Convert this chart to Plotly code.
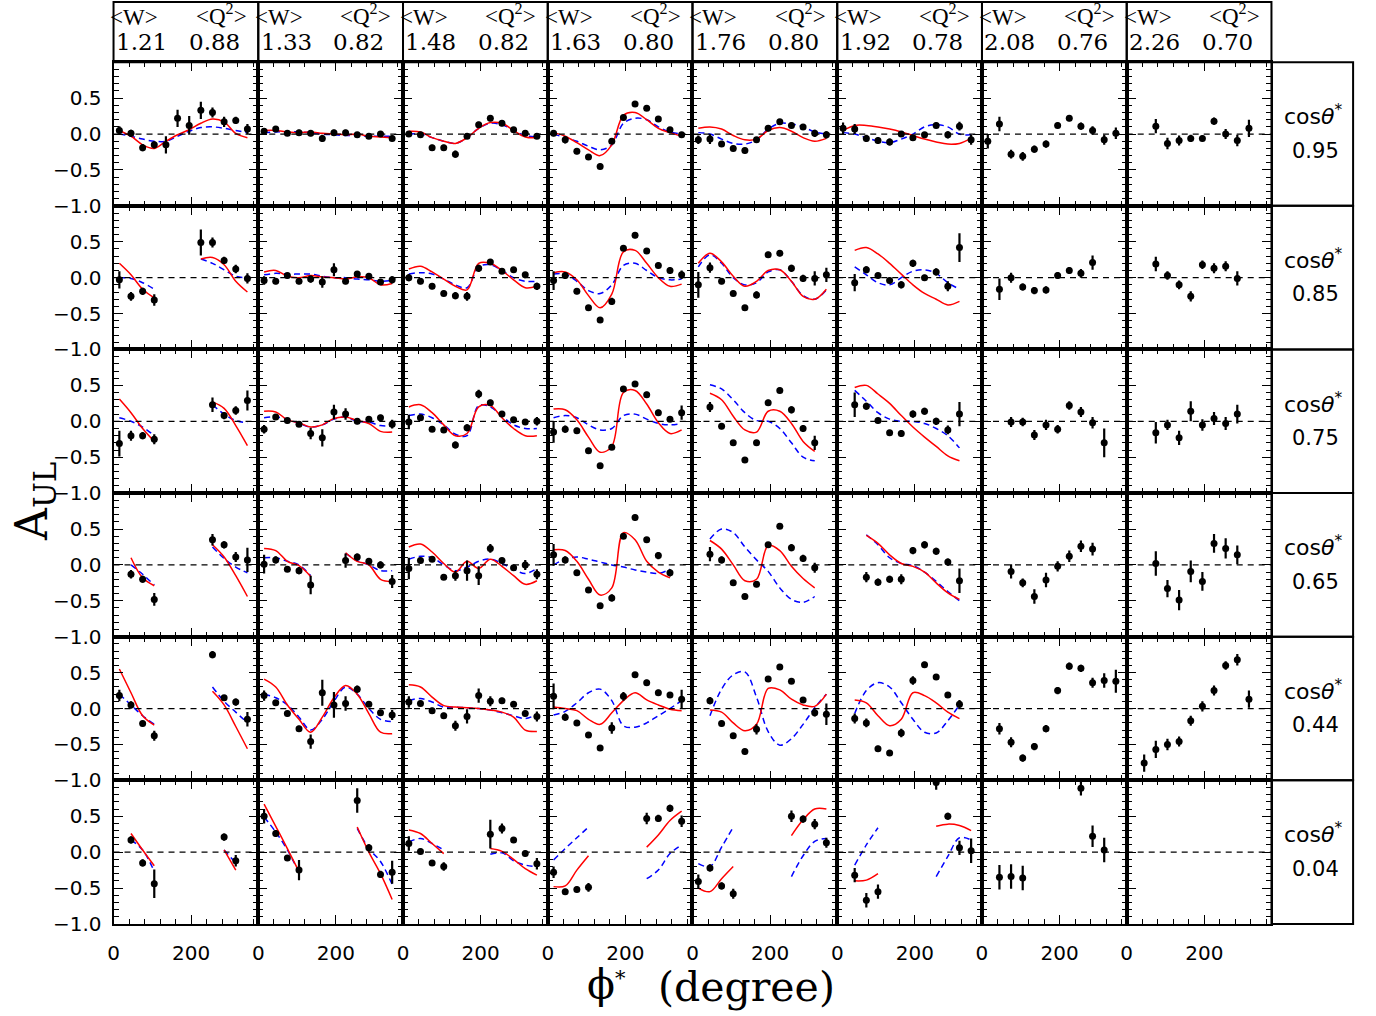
import plotly.graph_objects as go

N = None
PHI = [15, 45, 75, 105, 135, 165, 195, 225, 255, 285, 315, 345]
W_MEAN = ["1.21", "1.33", "1.48", "1.63", "1.76", "1.92", "2.08", "2.26"]
Q2_MEAN = ["0.88", "0.82", "0.82", "0.80", "0.80", "0.78", "0.76", "0.70"]
COS_THETA = ["0.95", "0.85", "0.75", "0.65", "0.44", "0.04"]
X_TICKS = [0, 200]
Y_TICKS = [-1.0, -0.5, 0.0, 0.5]
Y_TICKTEXT = ["\u22121.0", "\u22120.5", "0.0", "0.5"]

# ---------------- row 1 : cos theta* = 0.95 ----------------
A_R1 = [
    [0.05, 0.01, -0.19, -0.15, -0.15, 0.22, 0.12, 0.33, 0.30, 0.17, 0.19, 0.07],
    [0.04, 0.07, 0.01, 0.02, 0.01, -0.06, 0.02, 0.02, -0.01, -0.03, 0.00, -0.06],
    [0.00, -0.01, -0.19, -0.19, -0.28, -0.03, 0.13, 0.22, 0.15, 0.06, 0.01, -0.03],
    [0.01, -0.08, -0.24, -0.32, -0.45, -0.10, 0.23, 0.42, 0.36, 0.21, 0.06, -0.01],
    [-0.08, -0.07, -0.14, -0.20, -0.23, -0.08, 0.08, 0.17, 0.12, 0.10, 0.01, -0.01],
    [0.08, 0.07, -0.06, -0.09, -0.11, 0.00, -0.05, -0.01, 0.12, -0.01, 0.11, -0.08],
    [-0.10, 0.14, -0.28, -0.31, -0.21, -0.14, 0.12, 0.22, 0.11, 0.05, -0.08, 0.01],
    [N, N, 0.11, -0.13, -0.09, -0.06, -0.06, 0.18, 0.00, -0.09, 0.08, N],
]
E_R1 = [
    [0.06, 0.05, 0.05, 0.05, 0.12, 0.12, 0.13, 0.12, 0.07, 0.07, 0.05, 0.07],
    [0.04, 0.04, 0.03, 0.04, 0.04, 0.05, 0.04, 0.04, 0.03, 0.04, 0.04, 0.04],
    [0.04, 0.04, 0.04, 0.04, 0.05, 0.04, 0.04, 0.04, 0.04, 0.04, 0.04, 0.04],
    [0.04, 0.05, 0.04, 0.04, 0.04, 0.04, 0.04, 0.04, 0.04, 0.04, 0.04, 0.04],
    [0.06, 0.07, 0.04, 0.04, 0.04, 0.04, 0.04, 0.04, 0.04, 0.04, 0.05, 0.05],
    [0.08, 0.07, 0.05, 0.05, 0.05, 0.04, 0.04, 0.04, 0.04, 0.05, 0.06, 0.07],
    [0.10, 0.10, 0.06, 0.06, 0.05, 0.05, 0.04, 0.04, 0.05, 0.06, 0.07, 0.08],
    [N, N, 0.10, 0.08, 0.07, 0.05, 0.04, 0.05, 0.07, 0.08, 0.12, N],
]
RED_R1 = [
    [0.05, -0.03, -0.15, -0.20, -0.10, -0.01, 0.06, 0.15, 0.21, 0.17, 0.01, -0.05],
    [0.05, 0.05, 0.03, 0.02, 0.03, 0.01, 0.00, -0.01, 0.00, -0.03, -0.04, -0.05],
    [0.04, 0.03, -0.05, -0.10, -0.13, -0.05, 0.08, 0.16, 0.15, 0.05, -0.04, -0.05],
    [0.02, -0.03, -0.12, -0.22, -0.30, -0.15, 0.26, 0.30, 0.20, 0.08, 0.02, -0.03],
    [0.08, 0.10, 0.07, -0.02, -0.08, -0.07, 0.05, 0.09, 0.04, -0.05, -0.10, -0.06],
    [0.05, 0.12, 0.12, 0.10, 0.07, 0.03, -0.02, -0.07, -0.11, -0.14, -0.13, -0.06],
    None, None,
]
BLUE_R1 = [
    [0.00, -0.03, -0.07, -0.10, -0.10, -0.03, 0.04, 0.09, 0.10, 0.08, 0.05, 0.02],
    [0.02, 0.03, 0.03, 0.03, 0.02, 0.00, -0.01, -0.02, -0.02, -0.03, -0.03, -0.03],
    [0.00, 0.00, -0.05, -0.10, -0.13, -0.05, 0.08, 0.15, 0.13, 0.05, -0.02, -0.04],
    [0.00, -0.05, -0.10, -0.17, -0.22, -0.15, 0.15, 0.22, 0.20, 0.10, 0.03, 0.00],
    [0.02, 0.00, -0.07, -0.13, -0.14, -0.08, 0.07, 0.15, 0.14, 0.10, 0.03, 0.00],
    [0.02, 0.00, -0.05, -0.10, -0.12, -0.07, 0.00, 0.10, 0.13, 0.10, 0.00, -0.01],
    None, None,
]

# ---------------- row 2 : cos theta* = 0.85 ----------------
A_R2 = [
    [-0.03, -0.26, -0.19, -0.31, N, N, N, 0.49, 0.49, 0.24, 0.12, -0.01],
    [-0.04, -0.05, 0.03, -0.05, -0.02, -0.06, 0.11, -0.05, 0.05, 0.02, -0.06, -0.03],
    [0.00, -0.05, -0.12, -0.22, -0.25, -0.26, 0.13, 0.22, 0.09, 0.11, 0.04, -0.12],
    [-0.04, 0.03, -0.19, -0.42, -0.59, -0.33, 0.41, 0.59, 0.37, 0.17, 0.10, 0.04],
    [-0.10, 0.14, -0.05, -0.22, -0.42, -0.24, 0.32, 0.34, 0.13, -0.01, -0.01, 0.04],
    [N, -0.07, 0.11, 0.03, -0.04, -0.10, 0.20, 0.00, 0.08, -0.12, 0.42, N],
    [N, -0.16, 0.00, -0.13, -0.18, -0.17, 0.03, 0.10, 0.06, 0.21, N, N],
    [N, N, 0.19, 0.03, -0.10, -0.26, 0.18, 0.13, 0.16, -0.01, N, N],
]
E_R2 = [
    [0.12, 0.06, 0.05, 0.08, N, N, N, 0.18, 0.07, 0.05, 0.06, 0.07],
    [0.06, 0.04, 0.04, 0.04, 0.05, 0.08, 0.09, 0.04, 0.04, 0.04, 0.04, 0.05],
    [0.05, 0.04, 0.04, 0.04, 0.05, 0.06, 0.05, 0.04, 0.04, 0.04, 0.04, 0.05],
    [0.13, 0.05, 0.04, 0.04, 0.04, 0.05, 0.04, 0.04, 0.04, 0.04, 0.05, 0.06],
    [0.18, 0.07, 0.04, 0.04, 0.04, 0.05, 0.04, 0.04, 0.05, 0.05, 0.10, 0.10],
    [N, 0.12, 0.05, 0.04, 0.04, 0.05, 0.05, 0.04, 0.05, 0.07, 0.20, N],
    [N, 0.15, 0.07, 0.05, 0.05, 0.05, 0.05, 0.05, 0.06, 0.10, N, N],
    [N, N, 0.10, 0.06, 0.06, 0.07, 0.06, 0.07, 0.07, 0.10, N, N],
]
RED_R2 = [
    [0.20, 0.04, -0.16, -0.28, N, N, N, 0.26, 0.28, 0.18, -0.05, -0.20],
    [0.08, 0.10, 0.02, 0.00, 0.03, 0.01, 0.00, -0.02, 0.01, 0.00, -0.10, -0.08],
    [0.12, 0.16, 0.08, -0.02, -0.12, -0.17, 0.20, 0.20, 0.10, -0.03, -0.14, -0.12],
    [0.07, 0.08, -0.03, -0.25, -0.42, -0.23, 0.36, 0.38, 0.20, 0.00, -0.12, -0.09],
    [0.20, 0.34, 0.22, 0.02, -0.12, -0.05, 0.10, 0.11, -0.05, -0.26, -0.30, -0.16],
    [N, 0.38, 0.42, 0.33, 0.20, 0.05, -0.10, -0.22, -0.30, -0.38, -0.33, N],
    None, None,
]
BLUE_R2 = [
    [0.00, -0.01, -0.07, -0.16, N, N, N, 0.26, 0.20, 0.11, 0.02, 0.00],
    [0.04, 0.06, 0.05, 0.05, 0.05, 0.02, 0.00, 0.00, -0.02, -0.03, -0.05, -0.04],
    [0.05, 0.07, 0.05, -0.02, -0.10, -0.14, 0.15, 0.18, 0.10, 0.00, -0.05, -0.05],
    [0.05, 0.05, -0.05, -0.18, -0.22, -0.10, 0.17, 0.20, 0.10, 0.00, -0.03, -0.02],
    [0.15, 0.32, 0.20, 0.00, -0.10, -0.07, 0.08, 0.11, -0.05, -0.25, -0.30, -0.17],
    [N, 0.15, 0.04, -0.07, -0.10, 0.00, 0.09, 0.11, 0.06, -0.07, -0.16, N],
    None, None,
]

# ---------------- row 3 : cos theta* = 0.75 ----------------
A_R3 = [
    [-0.31, -0.20, -0.20, -0.25, N, N, N, N, 0.23, 0.08, 0.15, 0.29],
    [-0.11, 0.06, 0.01, -0.04, -0.17, -0.23, 0.13, 0.10, 0.00, 0.03, 0.05, -0.04],
    [-0.01, 0.05, -0.11, -0.12, -0.33, -0.09, 0.38, 0.26, 0.10, 0.02, -0.01, 0.00],
    [-0.15, -0.11, -0.13, -0.41, -0.62, -0.36, 0.45, 0.52, 0.37, 0.12, 0.03, 0.12],
    [N, 0.20, -0.07, -0.30, -0.54, -0.30, 0.26, 0.43, 0.16, -0.10, -0.30, N],
    [N, 0.23, 0.21, 0.01, -0.16, -0.17, 0.10, 0.14, 0.00, -0.12, 0.10, N],
    [N, N, -0.01, -0.01, -0.19, -0.05, -0.11, 0.22, 0.13, -0.02, -0.30, N],
    [N, N, -0.16, -0.05, -0.23, 0.14, -0.05, 0.04, -0.03, 0.10, N, N],
]
E_R3 = [
    [0.18, 0.07, 0.05, 0.07, N, N, N, N, 0.10, 0.05, 0.06, 0.14],
    [0.06, 0.04, 0.04, 0.04, 0.08, 0.12, 0.10, 0.08, 0.04, 0.04, 0.04, 0.06],
    [0.10, 0.04, 0.04, 0.04, 0.05, 0.05, 0.06, 0.04, 0.04, 0.04, 0.04, 0.06],
    [0.15, 0.05, 0.04, 0.04, 0.04, 0.04, 0.04, 0.04, 0.04, 0.04, 0.04, 0.10],
    [N, 0.07, 0.04, 0.04, 0.04, 0.04, 0.04, 0.04, 0.05, 0.05, 0.10, N],
    [N, 0.17, 0.05, 0.04, 0.04, 0.05, 0.05, 0.05, 0.05, 0.06, 0.17, N],
    [N, N, 0.07, 0.06, 0.07, 0.07, 0.06, 0.06, 0.07, 0.08, 0.20, N],
    [N, N, 0.15, 0.07, 0.10, 0.14, 0.08, 0.09, 0.09, 0.13, N, N],
]
RED_R3 = [
    [0.31, 0.12, -0.10, -0.28, N, N, N, N, 0.27, 0.18, -0.06, -0.34],
    [0.14, 0.13, 0.02, -0.02, -0.08, -0.05, 0.04, 0.06, 0.01, -0.03, -0.14, -0.15],
    [0.20, 0.23, 0.12, -0.05, -0.20, -0.17, 0.20, 0.22, 0.05, -0.10, -0.20, -0.20],
    [0.17, 0.16, 0.02, -0.22, -0.43, -0.35, 0.40, 0.43, 0.24, -0.02, -0.17, -0.12],
    [N, 0.39, 0.30, 0.07, -0.12, -0.15, 0.14, 0.14, -0.03, -0.28, -0.42, N],
    [N, 0.47, 0.50, 0.38, 0.25, 0.08, -0.08, -0.22, -0.35, -0.48, -0.55, N],
    None, None,
]
BLUE_R3 = [
    [0.05, 0.00, -0.08, -0.20, N, N, N, N, 0.23, 0.10, 0.01, -0.02],
    [0.05, 0.06, 0.03, -0.03, -0.08, -0.05, 0.03, 0.06, 0.00, -0.01, -0.06, -0.06],
    [0.08, 0.10, 0.05, -0.05, -0.18, -0.20, 0.22, 0.20, 0.07, -0.05, -0.10, -0.10],
    [0.05, 0.08, 0.05, -0.05, -0.12, -0.10, 0.08, 0.10, 0.03, -0.03, -0.05, -0.03],
    [N, 0.51, 0.45, 0.30, 0.12, 0.01, 0.00, -0.10, -0.30, -0.50, -0.55, N],
    [N, 0.43, 0.28, 0.12, 0.03, 0.00, 0.00, -0.03, -0.10, -0.20, -0.37, N],
    None, None,
]

# ---------------- row 4 : cos theta* = 0.65 ----------------
A_R4 = [
    [N, -0.13, -0.20, -0.48, N, N, N, N, 0.35, 0.28, 0.11, 0.07],
    [0.01, 0.07, -0.06, -0.08, -0.28, N, N, 0.06, 0.11, 0.05, 0.00, -0.23],
    [-0.05, 0.06, 0.08, -0.17, -0.15, -0.08, -0.15, 0.23, 0.06, -0.04, 0.00, -0.13],
    [0.14, 0.07, -0.11, -0.35, -0.57, -0.46, 0.40, 0.66, 0.35, 0.13, -0.11, N],
    [N, 0.15, 0.07, -0.25, -0.44, -0.27, 0.28, 0.54, 0.24, 0.09, -0.04, N],
    [N, N, -0.17, -0.24, -0.20, -0.20, 0.20, 0.28, 0.19, 0.04, -0.22, N],
    [N, N, -0.09, -0.25, -0.44, -0.21, -0.02, 0.12, 0.26, 0.22, N, N],
    [N, N, 0.02, -0.33, -0.49, -0.09, -0.23, 0.30, 0.23, 0.14, N, N],
]
E_R4 = [
    [N, 0.06, 0.05, 0.09, N, N, N, N, 0.08, 0.05, 0.07, 0.17],
    [0.13, 0.05, 0.04, 0.05, 0.13, N, N, 0.10, 0.05, 0.04, 0.05, 0.09],
    [0.15, 0.04, 0.04, 0.04, 0.07, 0.14, 0.13, 0.06, 0.04, 0.04, 0.07, 0.07],
    [0.15, 0.05, 0.04, 0.04, 0.04, 0.05, 0.04, 0.04, 0.04, 0.05, 0.05, N],
    [N, 0.10, 0.05, 0.04, 0.04, 0.04, 0.04, 0.04, 0.05, 0.05, 0.07, N],
    [N, N, 0.07, 0.05, 0.05, 0.07, 0.05, 0.05, 0.05, 0.05, 0.17, N],
    [N, N, 0.10, 0.06, 0.10, 0.10, 0.07, 0.08, 0.08, 0.09, N, N],
    [N, N, 0.17, 0.12, 0.14, 0.15, 0.13, 0.13, 0.14, 0.13, N, N],
]
RED_R4 = [
    [N, 0.10, -0.18, -0.29, N, N, N, N, 0.28, 0.11, -0.15, -0.44],
    [0.23, 0.20, 0.05, -0.01, -0.16, N, N, 0.17, 0.05, 0.00, -0.20, -0.23],
    [0.25, 0.29, 0.18, 0.02, -0.10, 0.05, -0.05, 0.08, -0.02, -0.15, -0.27, -0.22],
    [0.21, 0.20, 0.05, -0.20, -0.42, -0.32, 0.45, 0.35, 0.05, -0.10, -0.18, N],
    [N, 0.34, 0.22, 0.00, -0.22, -0.20, 0.27, 0.20, -0.02, -0.19, -0.32, N],
    [N, N, 0.41, 0.30, 0.14, 0.02, -0.02, -0.10, -0.25, -0.39, -0.48, N],
    None, None,
]
BLUE_R4 = [
    [N, 0.00, -0.13, -0.28, N, N, N, N, 0.25, 0.09, -0.03, -0.11],
    [0.10, 0.10, 0.05, 0.00, -0.15, N, N, 0.16, 0.06, 0.00, -0.08, -0.08],
    [0.08, 0.12, 0.10, 0.00, -0.08, -0.03, 0.05, 0.08, 0.02, -0.06, -0.12, -0.05],
    [0.00, 0.08, 0.11, 0.08, 0.04, 0.00, -0.03, -0.07, -0.10, -0.12, -0.06, N],
    [N, 0.36, 0.50, 0.45, 0.25, 0.07, -0.09, -0.32, -0.48, -0.52, -0.44, N],
    [N, N, 0.42, 0.28, 0.10, 0.02, -0.01, -0.10, -0.23, -0.37, -0.50, N],
    None, None,
]

# ---------------- row 5 : cos theta* = 0.44 ----------------
A_R5 = [
    [0.18, 0.05, -0.21, -0.38, N, N, N, N, 0.75, 0.15, 0.09, -0.15],
    [0.18, 0.08, -0.07, -0.28, -0.46, 0.22, 0.05, 0.07, 0.27, 0.06, -0.06, -0.09],
    [0.09, 0.07, -0.03, -0.10, -0.24, -0.11, 0.18, 0.10, 0.11, 0.06, -0.07, -0.11],
    [0.17, -0.12, -0.20, -0.37, -0.55, -0.27, 0.17, 0.47, 0.36, 0.22, 0.19, 0.13],
    [N, 0.11, -0.21, -0.38, -0.60, -0.29, 0.41, 0.58, 0.38, 0.12, -0.06, -0.08],
    [N, -0.14, -0.20, -0.56, -0.62, -0.34, 0.39, 0.61, 0.44, 0.19, 0.06, N],
    [N, -0.28, -0.47, -0.69, -0.53, -0.28, 0.25, 0.59, 0.56, 0.36, 0.39, 0.38],
    [N, -0.76, -0.57, -0.50, -0.46, -0.17, 0.03, 0.25, 0.60, 0.68, 0.13, N],
]
E_R5 = [
    [0.08, 0.05, 0.04, 0.07, N, N, N, N, 0.05, 0.04, 0.05, 0.10],
    [0.07, 0.04, 0.04, 0.04, 0.10, 0.18, 0.18, 0.10, 0.05, 0.04, 0.04, 0.07],
    [0.08, 0.04, 0.04, 0.04, 0.07, 0.10, 0.10, 0.07, 0.04, 0.04, 0.04, 0.07],
    [0.18, 0.05, 0.04, 0.04, 0.04, 0.08, 0.06, 0.04, 0.04, 0.04, 0.04, 0.13],
    [N, 0.05, 0.04, 0.04, 0.04, 0.07, 0.04, 0.04, 0.04, 0.04, 0.05, 0.15],
    [N, 0.07, 0.06, 0.04, 0.04, 0.06, 0.06, 0.04, 0.04, 0.04, 0.06, N],
    [N, 0.08, 0.07, 0.05, 0.05, 0.05, 0.05, 0.05, 0.05, 0.07, 0.10, 0.16],
    [N, 0.12, 0.12, 0.08, 0.07, 0.07, 0.07, 0.07, 0.06, 0.08, 0.12, N],
]
RED_R5 = [
    [0.55, 0.22, -0.10, -0.23, N, N, N, N, 0.24, 0.05, -0.25, -0.56],
    [0.41, 0.30, 0.05, -0.15, -0.33, -0.12, 0.15, 0.32, 0.20, -0.07, -0.33, -0.35],
    [0.33, 0.30, 0.16, 0.04, 0.02, 0.01, 0.00, -0.02, -0.05, -0.12, -0.30, -0.32],
    [0.02, 0.00, -0.03, -0.15, -0.22, -0.06, 0.11, 0.22, 0.12, 0.05, -0.01, -0.03],
    [N, -0.02, -0.05, -0.20, -0.31, -0.22, 0.28, 0.26, 0.13, 0.05, 0.03, 0.20],
    [N, 0.12, 0.08, -0.10, -0.24, -0.15, 0.22, 0.18, 0.08, -0.05, -0.14, N],
    None, None,
]
BLUE_R5 = [
    [0.20, 0.05, -0.10, -0.22, N, N, N, N, 0.30, 0.10, -0.05, -0.20],
    [0.20, 0.15, 0.05, -0.12, -0.30, -0.15, 0.10, 0.30, 0.20, 0.00, -0.15, -0.18],
    [0.11, 0.14, 0.09, 0.02, 0.02, 0.01, 0.00, -0.02, -0.06, -0.10, -0.14, -0.08],
    [-0.09, -0.04, 0.08, 0.22, 0.27, 0.11, -0.24, -0.26, -0.20, -0.10, 0.00, 0.11],
    [N, -0.10, 0.27, 0.47, 0.51, 0.16, -0.32, -0.51, -0.42, -0.22, 0.01, 0.20],
    [N, -0.07, 0.25, 0.36, 0.30, 0.08, -0.15, -0.33, -0.34, -0.17, 0.05, N],
    None, None,
]

# ---------------- row 6 : cos theta* = 0.04 ----------------
A_R6 = [
    [N, 0.17, -0.15, -0.44, N, N, N, N, N, 0.21, -0.12, N],
    [0.50, 0.26, -0.08, -0.25, N, N, N, N, 0.72, 0.06, -0.31, -0.28],
    [0.12, 0.01, -0.15, -0.20, N, N, N, 0.25, 0.33, 0.17, -0.02, -0.16],
    [-0.28, -0.55, -0.52, -0.49, N, N, N, N, 0.47, 0.47, 0.61, 0.43],
    [-0.41, -0.22, -0.47, -0.58, N, N, N, N, 0.50, 0.46, 0.39, 0.13],
    [N, -0.32, -0.67, -0.55, N, N, N, N, 0.97, 0.50, 0.06, 0.02],
    [N, -0.35, -0.34, -0.36, N, N, N, N, 0.89, 0.22, 0.03, N],
    [N, N, N, N, N, N, N, N, N, N, N, N],
]
E_R6 = [
    [N, 0.05, 0.05, 0.20, N, N, N, N, N, 0.05, 0.08, N],
    [0.10, 0.05, 0.04, 0.14, N, N, N, N, 0.17, 0.05, 0.05, 0.16],
    [0.10, 0.04, 0.04, 0.06, N, N, N, 0.20, 0.07, 0.04, 0.04, 0.08],
    [0.08, 0.04, 0.04, 0.06, N, N, N, N, 0.08, 0.05, 0.05, 0.08],
    [0.10, 0.05, 0.05, 0.07, N, N, N, N, 0.08, 0.05, 0.07, 0.07],
    [N, 0.10, 0.10, 0.10, N, N, N, N, 0.10, 0.05, 0.10, 0.17],
    [N, 0.17, 0.17, 0.17, N, N, N, N, 0.10, 0.15, 0.17, N],
    [N, N, N, N, N, N, N, N, N, N, N, N],
]
RED_R6 = [
    [N, 0.26, 0.03, -0.19, N, N, N, N, N, 0.03, -0.25, N],
    [0.67, 0.36, 0.05, -0.27, N, N, N, N, 0.35, 0.00, -0.30, -0.66],
    [0.31, 0.26, 0.12, -0.02, N, N, N, 0.05, 0.01, -0.10, -0.23, -0.32],
    [-0.48, -0.47, -0.25, -0.05, N, N, N, N, 0.07, 0.24, 0.44, 0.57],
    [-0.50, -0.55, -0.37, -0.20, N, N, N, N, 0.23, 0.45, 0.60, 0.60],
    [N, -0.40, -0.39, -0.30, N, N, N, N, 0.36, 0.39, 0.37, 0.30],
    None, None,
]
BLUE_R6 = [
    [N, 0.17, 0.03, -0.27, N, N, N, N, N, 0.03, -0.15, N],
    [0.49, 0.28, 0.03, -0.28, N, N, N, N, 0.33, 0.05, -0.13, -0.45],
    [0.14, 0.19, 0.12, 0.03, N, N, N, -0.03, -0.01, -0.12, -0.18, -0.20],
    [-0.11, 0.05, 0.20, 0.35, N, N, N, N, -0.37, -0.25, -0.02, 0.10],
    [-0.16, -0.20, 0.07, 0.35, N, N, N, N, -0.34, -0.05, 0.15, 0.19],
    [N, -0.18, 0.10, 0.34, N, N, N, N, -0.34, -0.06, 0.20, 0.17],
    None, None,
]

A_ROWS = [A_R1, A_R2, A_R3, A_R4, A_R5, A_R6]
E_ROWS = [E_R1, E_R2, E_R3, E_R4, E_R5, E_R6]
RED_ROWS = [RED_R1, RED_R2, RED_R3, RED_R4, RED_R5, RED_R6]
BLUE_ROWS = [BLUE_R1, BLUE_R2, BLUE_R3, BLUE_R4, BLUE_R5, BLUE_R6]

# ---------------- layout geometry (pixels) ----------------
FW, FH = 1376, 1016
L, R, T, B = 108, 1271, 63, 935
NCOL, NROW = 8, 6
CW = (R - L) / NCOL
RH = (B - T) / NROW
XMAX = 373
BOX_R = 1353
HEAD_TOP = 2

SERIF = "DejaVu Serif"
TIMES = "Liberation Serif"
SANS = "DejaVu Sans"

def px(x):
    return x / FW

def py(y):
    return 1 - y / FH

fig = go.Figure()
shapes = []
annotations = []
layout_axes = {}

for r in range(NROW):
    for c in range(NCOL):
        k = r * NCOL + c + 1
        xs = "x" if k == 1 else f"x{k}"
        ys = "y" if k == 1 else f"y{k}"
        xa = "xaxis" if k == 1 else f"xaxis{k}"
        ya = "yaxis" if k == 1 else f"yaxis{k}"
        x0 = L + c * CW
        y0 = T + r * RH
        layout_axes[xa] = dict(
            domain=[px(x0), px(x0 + CW)], anchor=ys, range=[0, XMAX],
            showline=True, linewidth=2, linecolor="black", mirror="allticks",
            ticks="inside", ticklen=9, tickwidth=1.3, tickcolor="black",
            tickmode="array", tickvals=X_TICKS, ticktext=[str(v) for v in X_TICKS],
            showticklabels=(r == NROW - 1), ticklabelstandoff=10,
            tickfont=dict(family=SANS, size=20, color="black"),
            minor=dict(tickmode="linear", tick0=0, dtick=40, ticks="inside",
                       ticklen=5, tickwidth=1.1, tickcolor="black"),
            showgrid=False, zeroline=False, fixedrange=True,
        )
        layout_axes[ya] = dict(
            domain=[py(y0 + RH), py(y0)], anchor=xs, range=[-1, 1],
            showline=True, linewidth=2, linecolor="black", mirror="allticks",
            ticks="inside", ticklen=9, tickwidth=1.3, tickcolor="black",
            tickmode="array", tickvals=Y_TICKS, ticktext=Y_TICKTEXT,
            showticklabels=(c == 0), ticklabelstandoff=6,
            tickfont=dict(family=SANS, size=20, color="black"),
            minor=dict(tickmode="linear", tick0=-1, dtick=0.1, ticks="inside",
                       ticklen=5, tickwidth=1.1, tickcolor="black"),
            showgrid=False, zeroline=False, fixedrange=True,
        )
        # zero reference line
        shapes.append(dict(type="line", xref=f"{xs} domain", yref=ys,
                           x0=0, x1=1, y0=0, y1=0,
                           line=dict(color="black", width=1.2, dash="6px,5px")))
        red = RED_ROWS[r][c]
        blue = BLUE_ROWS[r][c]
        if blue is not None:
            fig.add_trace(go.Scatter(
                x=PHI, y=blue, mode="lines", xaxis=xs, yaxis=ys,
                line=dict(color="#0000ff", width=1.5, dash="6px,4px", shape="spline", smoothing=1.0),
                connectgaps=False, showlegend=False, hoverinfo="skip"))
        if red is not None:
            fig.add_trace(go.Scatter(
                x=PHI, y=red, mode="lines", xaxis=xs, yaxis=ys,
                line=dict(color="#ff0000", width=1.5, shape="spline", smoothing=1.0),
                connectgaps=False, showlegend=False, hoverinfo="skip"))
        a = A_ROWS[r][c]
        e = E_ROWS[r][c]
        px_, py_, pe_ = [], [], []
        for phi, v, err in zip(PHI, a, e):
            if v is not None:
                px_.append(phi)
                py_.append(v)
                pe_.append(err)
        if px_:
            fig.add_trace(go.Scatter(
                x=px_, y=py_, mode="markers", xaxis=xs, yaxis=ys,
                marker=dict(size=7, color="black"),
                error_y=dict(type="data", array=pe_, visible=True, thickness=2.2,
                             width=0, color="black"),
                showlegend=False, hoverinfo="skip"))

# header boxes with <W> and <Q^2>
for c in range(NCOL):
    x0 = L + c * CW
    shapes.append(dict(type="rect", xref="paper", yref="paper",
                       x0=px(x0), x1=px(x0 + CW), y0=py(T), y1=py(HEAD_TOP),
                       line=dict(color="black", width=2)))
    wf = dict(family=TIMES, size=23, color="black")
    qf = dict(family=TIMES, size=23, color="black")
    nf = dict(family=SERIF, size=23, color="black")
    annotations += [
        dict(text="&lt;W&gt;", x=px(x0 + 21), y=py(18), xref="paper", yref="paper",
             showarrow=False, font=wf, xanchor="center", yanchor="middle"),
        dict(text="&lt;Q<sup>2</sup>&gt;", x=px(x0 + 108), y=py(15), xref="paper", yref="paper",
             showarrow=False, font=qf, xanchor="center", yanchor="middle"),
        dict(text=W_MEAN[c], x=px(x0 + 28), y=py(42), xref="paper", yref="paper",
             showarrow=False, font=nf, xanchor="center", yanchor="middle"),
        dict(text=Q2_MEAN[c], x=px(x0 + 101), y=py(42), xref="paper", yref="paper",
             showarrow=False, font=nf, xanchor="center", yanchor="middle"),
    ]

# right-hand boxes with cos theta*
for r in range(NROW):
    y0 = T + r * RH
    shapes.append(dict(type="rect", xref="paper", yref="paper",
                       x0=px(R), x1=px(BOX_R), y0=py(y0 + RH), y1=py(y0),
                       line=dict(color="black", width=2)))
    cf = dict(family=SANS, size=22, color="black")
    vf = dict(family=SANS, size=21, color="black")
    annotations += [
        dict(text="cos<i>θ</i><sup>*</sup>", x=px((R + BOX_R) / 2 + 1), y=py(y0 + RH / 2 - 19),
             xref="paper", yref="paper", showarrow=False, font=cf,
             xanchor="center", yanchor="middle"),
        dict(text=COS_THETA[r], x=px((R + BOX_R) / 2 + 3), y=py(y0 + RH / 2 + 17),
             xref="paper", yref="paper", showarrow=False, font=vf,
             xanchor="center", yanchor="middle"),
    ]

# axis titles
annotations += [
    dict(text="A<sub>UL</sub>", x=px(28), y=py(507), xref="paper", yref="paper",
         showarrow=False, textangle=-90, font=dict(family=SERIF, size=44, color="black"),
         xanchor="center", yanchor="middle"),
    dict(text="\u03d5<span style='font-size:30px'><sup>*</sup></span>",
         x=px(582), y=py(996), xref="paper", yref="paper",
         showarrow=False, font=dict(family=SERIF, size=41, color="black"),
         xanchor="left", yanchor="middle"),
    dict(text="(degree)",
         x=px(744), y=py(999), xref="paper", yref="paper",
         showarrow=False, font=dict(family=SERIF, size=41, color="black"),
         xanchor="center", yanchor="middle"),
]

fig.update_layout(
    width=FW, height=FH, margin=dict(l=0, r=0, t=0, b=0),
    paper_bgcolor="white", plot_bgcolor="white",
    showlegend=False, shapes=shapes, annotations=annotations,
    **layout_axes,
)

fig.write_html("out.html", config={"displayModeBar": False},
               post_script="document.body.style.margin='0';document.body.style.overflow='hidden';")
